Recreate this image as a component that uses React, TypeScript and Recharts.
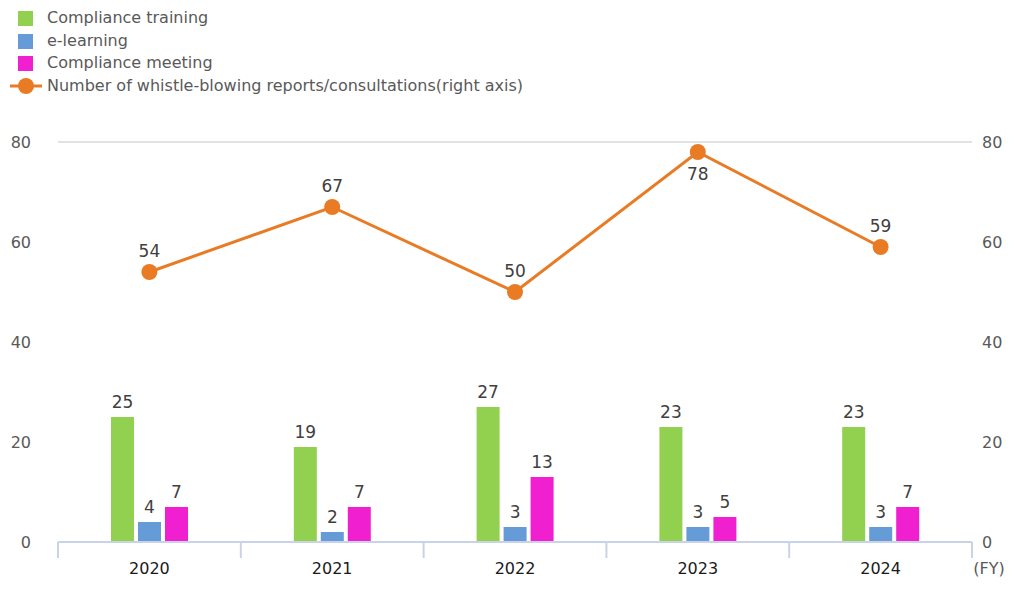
import React from 'react';
import {
  ComposedChart,
  Bar,
  Line,
  XAxis,
  YAxis,
  CartesianGrid,
  LabelList,
} from 'recharts';

const years = ['2020', '2021', '2022', '2023', '2024'];
const complianceTraining = [25, 19, 27, 23, 23];
const eLearning = [4, 2, 3, 3, 3];
const complianceMeeting = [7, 7, 13, 5, 7];
const whistleBlowing = [54, 67, 50, 78, 59];
const axisTicks = [0, 20, 40, 60, 80];

const data = years.map((year, i) => ({
  year,
  training: complianceTraining[i],
  elearning: eLearning[i],
  meeting: complianceMeeting[i],
  whistle: whistleBlowing[i],
}));

const FONT = '"DejaVu Sans", sans-serif';
const GREEN = '#92D050';
const BLUE = '#659BD6';
const MAGENTA = '#F020D0';
const ORANGE = '#E87B24';
const AXIS = '#C9D3E8';

const legendItems = [
  { label: 'Compliance training', color: GREEN },
  { label: 'e-learning', color: BLUE },
  { label: 'Compliance meeting', color: MAGENTA },
];

function Legend() {
  return (
    <div style={{ position: 'absolute', left: 0, top: 0, fontFamily: FONT, fontSize: 16, color: '#595959' }}>
      {legendItems.map((item, i) => (
        <div key={item.label} style={{ position: 'absolute', left: 0, top: 7 + i * 22.7, height: 22, width: 600 }}>
          <div style={{ position: 'absolute', left: 18, top: 4, width: 15, height: 15, background: item.color }} />
          <div style={{ position: 'absolute', left: 47, top: 0, lineHeight: '22px', whiteSpace: 'nowrap' }}>{item.label}</div>
        </div>
      ))}
      <div style={{ position: 'absolute', left: 0, top: 75, height: 22, width: 600 }}>
        <svg style={{ position: 'absolute', left: 8, top: 1 }} width={36} height={20}>
          <line x1={2} y1={10} x2={34} y2={10} stroke={ORANGE} strokeWidth={3} />
          <circle cx={18} cy={10} r={8} fill={ORANGE} />
        </svg>
        <div style={{ position: 'absolute', left: 47, top: 0, lineHeight: '22px', whiteSpace: 'nowrap' }}>
          Number of whistle-blowing reports/consultations(right axis)
        </div>
      </div>
    </div>
  );
}

const BAND = 914 / years.length;

function YearTick(props: any) {
  const { x, y, payload, index } = props;
  const last = index === years.length - 1;
  return (
    <g>
      <line x1={x - BAND / 2} y1={y} x2={x - BAND / 2} y2={y + 16} stroke={AXIS} strokeWidth={2} />
      {last && <line x1={x + BAND / 2} y1={y} x2={x + BAND / 2} y2={y + 16} stroke={AXIS} strokeWidth={2} />}
      <text x={x} y={y + 32} textAnchor="middle" fontFamily={FONT} fontSize={16} fill="#1a1a1a">
        {payload.value}
      </text>
      {last && (
        <text x={x + BAND / 2 + 17} y={y + 32} textAnchor="middle" fontFamily={FONT} fontSize={16} fill="#595959">
          (FY)
        </text>
      )}
    </g>
  );
}

function WhistleLabel(props: any) {
  const { x, y, value, index } = props;
  const below = index === 3;
  return (
    <text
      x={x}
      y={below ? y + 28 : y - 15}
      textAnchor="middle"
      fontFamily={FONT}
      fontSize={17}
      fill="#404040"
    >
      {value}
    </text>
  );
}

const barLabel = { position: 'top' as const, offset: 9, fontFamily: FONT, fontSize: 17, fill: '#404040' };

export default function App() {
  return (
    <div style={{ position: 'absolute', left: 0, top: 0, width: 1034, height: 589, background: '#fff' }}>
      <Legend />
      <ComposedChart
        width={1034}
        height={589}
        data={data}
        margin={{ top: 142, right: 0, bottom: 0, left: 0 }}
        barSize={23}
        barGap={4}
      >
        <CartesianGrid vertical={false} stroke="#D9D9D9" strokeWidth={1.5} />
        <XAxis
          dataKey="year"
          height={47}
          axisLine={{ stroke: AXIS, strokeWidth: 2 }}
          tickLine={false}
          tickSize={0}
          tickMargin={0}
          tick={<YearTick />}
          interval={0}
        />
        <YAxis
          yAxisId="left"
          width={58}
          domain={[0, 80]}
          ticks={axisTicks}
          axisLine={false}
          tickLine={false}
          tickSize={0}
          tickMargin={27}
          tick={{ fontFamily: FONT, fontSize: 16, fill: '#595959' }}
        />
        <YAxis
          yAxisId="right"
          orientation="right"
          width={62}
          domain={[0, 80]}
          ticks={axisTicks}
          axisLine={false}
          tickLine={false}
          tickSize={0}
          tickMargin={10}
          tick={{ fontFamily: FONT, fontSize: 16, fill: '#595959', textAnchor: 'start' }}
        />
        <Bar yAxisId="left" dataKey="training" fill={GREEN} isAnimationActive={false}>
          <LabelList dataKey="training" {...barLabel} />
        </Bar>
        <Bar yAxisId="left" dataKey="elearning" fill={BLUE} isAnimationActive={false}>
          <LabelList dataKey="elearning" {...barLabel} />
        </Bar>
        <Bar yAxisId="left" dataKey="meeting" fill={MAGENTA} isAnimationActive={false}>
          <LabelList dataKey="meeting" {...barLabel} />
        </Bar>
        <Line
          yAxisId="right"
          dataKey="whistle"
          stroke={ORANGE}
          strokeWidth={3}
          dot={{ r: 8, fill: ORANGE, stroke: ORANGE, strokeWidth: 0 }}
          isAnimationActive={false}
        >
          <LabelList dataKey="whistle" content={<WhistleLabel />} />
        </Line>
      </ComposedChart>
    </div>
  );
}
